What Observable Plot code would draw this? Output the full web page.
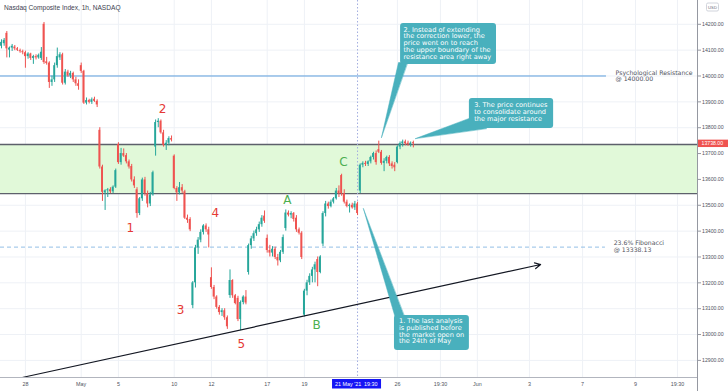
<!DOCTYPE html>
<html><head><meta charset="utf-8">
<script src="https://cdn.jsdelivr.net/npm/d3@7"></script>
<script src="https://cdn.jsdelivr.net/npm/@observablehq/plot@0.6"></script>
<style>
html,body{margin:0;padding:0;background:#fff}
#chart{width:728px;height:391px;overflow:hidden}
</style>
</head><body><div id="chart"></div>
<script>
// ---------------- data (hourly bars, index = bar number) ----------------
const open  = [14115,14125,14165,14100,14108,14112,14105,14098,14094,14090,14075,14085,14068,14075,14070,14068,14200,14055,14050,13975,
13985,14040,14070,14082,13972,14015,14000,14010,13985,13970,14040,14018,13895,13905,13898,13910,13902,13790,13648,13548,
13556,13560,13552,13570,13735,13665,13700,13692,13668,13650,13598,13560,13468,13525,13598,13545,13505,13540,13725,13820,
13825,13780,13732,13740,13758,13690,13565,13548,13568,13552,13450,13445,13112,13200,13335,13365,13395,13420,13405,13220,
13182,13145,13105,13085,13092,13065,13151,13209,13150,13140,13058,13124,13145,13240,13344,13370,13390,13405,13425,13458,
13372,13325,13315,13330,13298,13285,13318,13410,13470,13462,13468,13450,13405,13392,13075,13168,13200,13225,13250,13290,
13240,13350,13468,13505,13495,13512,13525,13555,13615,13545,13512,13495,13500,13490,13505,13555,13655,13662,13658,13668,
13685,13700,13715,13705,13662,13670,13685,13660,13655,13665,13725,13738,13745,13740,13735,13742];
const high  = [14140,14145,14172,14112,14122,14118,14110,14104,14100,14096,14090,14088,14080,14082,14085,14110,14207,14072,14055,14000,
14050,14108,14090,14088,14025,14022,14018,14015,13995,13985,14050,14022,13915,13910,13915,13918,13908,13800,13655,13560,
13565,13568,13575,13640,13742,13720,13718,13700,13675,13658,13610,13568,13530,13605,13608,13555,13550,13632,13830,13835,
13830,13790,13750,13765,13768,13695,13572,13588,13580,13558,13462,13452,13205,13345,13375,13405,13425,13428,13415,13258,
13190,13150,13112,13100,13100,13072,13250,13212,13155,13148,13130,13150,13170,13350,13380,13400,13415,13435,13460,13478,
13385,13345,13340,13338,13310,13325,13385,13482,13478,13475,13472,13460,13412,13398,13175,13210,13235,13260,13280,13300,
13305,13475,13515,13512,13520,13530,13565,13575,13620,13560,13520,13505,13508,13515,13512,13660,13668,13670,13672,13690,
13705,13710,13748,13712,13680,13690,13692,13668,13665,13730,13745,13752,13752,13748,13745,13748];
const low   = [14105,14115,14070,14070,14095,14098,14095,14088,14082,14030,14065,14060,14045,14062,14065,14060,14045,14042,13952,13960,
13975,14030,14060,13965,13965,13995,13990,13975,13960,13945,14010,13890,13888,13892,13890,13898,13878,13640,13515,13480,
13530,13545,13545,13565,13658,13655,13685,13660,13640,13590,13565,13450,13460,13515,13535,13490,13495,13535,13690,13800,
13775,13725,13712,13730,13745,13560,13515,13540,13545,13445,13430,13398,13100,13180,13310,13355,13385,13395,13335,13175,
13135,13098,13075,13070,13055,13020,13140,13140,13115,13050,13015,13115,13115,13230,13330,13360,13380,13395,13415,13430,
13315,13300,13300,13290,13265,13278,13310,13400,13455,13448,13435,13395,13385,13290,13068,13150,13190,13200,13200,13185,
13235,13340,13455,13485,13490,13505,13520,13530,13535,13505,13490,13470,13485,13480,13460,13545,13645,13650,13650,13660,
13675,13655,13700,13655,13630,13660,13650,13640,13630,13660,13715,13725,13730,13728,13725,13722];
const close = [14130,14138,14105,14108,14115,14105,14100,14094,14090,14075,14085,14068,14075,14070,14080,14092,14052,14048,13975,13985,
14040,14075,14082,13972,14015,14000,14010,13985,13970,13960,14018,13895,13905,13898,13908,13902,13888,13648,13550,13556,
13560,13552,13570,13634,13665,13700,13690,13668,13648,13598,13575,13468,13525,13598,13545,13505,13540,13626,13820,13825,
13780,13732,13740,13758,13752,13565,13548,13568,13555,13450,13442,13405,13200,13335,13365,13395,13420,13405,13385,13182,
13145,13105,13085,13092,13065,13030,13209,13150,13120,13058,13124,13145,13122,13344,13370,13390,13405,13425,13450,13438,
13325,13315,13330,13298,13285,13318,13375,13470,13462,13468,13445,13405,13392,13298,13168,13200,13225,13250,13270,13240,
13300,13468,13505,13495,13512,13525,13555,13545,13545,13512,13495,13500,13490,13505,13468,13655,13662,13658,13668,13685,
13700,13665,13705,13662,13670,13685,13660,13650,13645,13725,13738,13745,13738,13735,13740,13738];

// axis ticks
const priceTicks = [12900,13000,13100,13200,13300,13400,13500,13600,13700,13800,13900,14000,14100,14200];
const timeTickPos    = [9, 30, 44, 65, 79, 100, 114, 149, 165.2, 179.1, 198.7, 218.7, 238.6, 254.4];
const timeTickLabels = ["28","May","5","10","12","17","19","26","19:30","Jun","3","7","9","19:30"];

// levels
const resistanceZone = [13545, 13735];
const psychLevel = 14000;
const fibLevel = 13338.13;
const lastPrice = 13738;
const markerBar = 134;          // 21 May '21 19:30
const trendLine = [{x1: 7.8, y1: 12834, x2: 202.9, y2: 13271}];

// wave labels
const waveText  = ["2","1","4","3","5","A","B","C"];
const waveBar   = [60.6, 48.5, 80.5, 67.4, 90.3, 107.6, 118.6, 128.7];
const wavePrice = [13870, 13410, 13468, 13093, 12961, 13518, 13035, 13665];

// callouts (in bar / price units)
const callouts = [
  {text: "1. The last analysis\nis published before\nthe market open on\nthe 24th of May",
   x1: 147.9, x2: 176.1, y1: 12938, y2: 13074, tx: 149.6, ty: 13062,
   tail: [[136.2, 13487], [148.3, 13062], [151.9, 13062]]},
  {text: "2. Instead of extending\nthe correction lower, the\nprice went on to reach\nthe upper boundary of the\nresistance area right away",
   x1: 150.2, x2: 186.3, y1: 14044, y2: 14203, tx: 151.3, ty: 14190,
   tail: [[143.0, 13762], [149.4, 14052], [152.8, 14052]]},
  {text: "3. The price continues\nto consolidate around\nthe major resistance",
   x1: 176.1, x2: 207.8, y1: 13797, y2: 13913, tx: 177.9, ty: 13897,
   tail: [[155.8, 13758], [176.5, 13838], [182.5, 13797]]}
];
const levelLabels = [
  {text: "Psychological Resistance\n@ 14000.00", x: 231.1, y: 14000},
  {text: "23.6% Fibonacci\n@ 13338.13", x: 230.4, y: 13340}
];

// ---------------- build ----------------
const GREEN = "#26a69a", RED = "#ef5350", TEAL = "#49b0bd";
const X0 = -0.376, X1 = 261.95;
const candles = open.map((o, i) => ({i, o, h: high[i], l: low[i], c: close[i], col: close[i] >= o ? GREEN : RED}));
const waves = waveText.map((t, k) => ({t, x: waveBar[k], y: wavePrice[k], col: /[A-C]/.test(t) ? "#4caf50" : "#e53935"}));
const timeTicks = timeTickPos.map((p, k) => ({p, label: timeTickLabels[k]}));
const tails = callouts.flatMap((c, k) => c.tail.map(([x, y]) => ({k, x, y})));

const font = "'Liberation Sans', Arial, sans-serif";
const vfont = "'DejaVu Sans', Verdana, sans-serif";

const plot = Plot.plot({
  width: 728, height: 391,
  marginLeft: 0, marginRight: 31, marginTop: 0, marginBottom: 13,
  x: {domain: [X0, X1], axis: null},
  y: {domain: [12830, 14292], axis: null},
  color: {type: "identity"},
  style: {background: "#fff", fontFamily: font, overflow: "visible"},
  marks: [
    Plot.ruleY(priceTicks, {stroke: "#eef1f6", strokeWidth: 1}),
    Plot.ruleX(timeTickPos, {stroke: "#eef1f6", strokeWidth: 1}),
    Plot.rect([resistanceZone], {x1: () => X0, x2: () => X1, y1: d => d[0], y2: d => d[1], fill: "#e1f9d9"}),
    Plot.ruleY(resistanceZone, {stroke: "#5d606b", strokeWidth: 1.4}),
    Plot.ruleY([psychLevel], {x1: () => X0, x2: () => 227.7, stroke: "#5d9fdc", strokeWidth: 1}),
    Plot.ruleY([fibLevel], {x1: () => X0, x2: () => 227.3, stroke: "#93bfe6", strokeWidth: 1, strokeDasharray: "4,3"}),
    Plot.ruleX([markerBar], {stroke: "#a3addf", strokeWidth: 1, strokeDasharray: "1.5,2"}),
    Plot.ruleX(candles, {x: "i", y1: "l", y2: "h", stroke: "col", strokeWidth: 1}),
    Plot.rect(candles, {x1: d => d.i - 0.35, x2: d => d.i + 0.35, y1: "o", y2: "c", fill: "col"}),
    Plot.arrow(trendLine, {x1: "x1", y1: "y1", x2: "x2", y2: "y2", stroke: "#131722", strokeWidth: 1.2, headLength: 8, headAngle: 55}),
    Plot.line(tails, {x: "x", y: "y", z: "k", fill: TEAL, stroke: TEAL, strokeWidth: 0.5, curve: "linear-closed"}),
    Plot.rect(callouts, {x1: "x1", x2: "x2", y1: "y1", y2: "y2", fill: TEAL, rx: 3}),
    Plot.text(callouts, {x: "tx", y: "ty", text: "text", textAnchor: "start", lineAnchor: "top", fill: "#fff", fontSize: 6.6, lineHeight: 1.02, fontFamily: vfont}),
    Plot.text(levelLabels, {x: "x", y: "y", text: "text", textAnchor: "start", lineAnchor: "middle", fill: "#50535e", fontSize: 6.2, lineHeight: 1.08, fontFamily: vfont}),
    Plot.text(waves, {x: "x", y: "y", text: "t", fill: "col", fontSize: 12, fontFamily: vfont}),
    Plot.text(timeTicks, {x: "p", text: "label", frameAnchor: "bottom", dy: 7, fill: "#50535e", fontSize: 5.4, fontFamily: font}),
    Plot.axisY(priceTicks, {anchor: "right", tickSize: 3, tickPadding: 1.5, tickFormat: d => d.toFixed(2), fontSize: 5.2, color: "#50535e", stroke: "#9598a1", label: null})
  ]
});

document.getElementById("chart").appendChild(plot);
const svg = d3.select(plot);
const xs = plot.scale("x"), ys = plot.scale("y");
const g = svg.append("g").attr("text-anchor", "start").attr("font-family", font);

// axis lines
g.append("line").attr("x1", 0).attr("x2", 697.5).attr("y1", 377.5).attr("y2", 377.5).attr("stroke", "#b2b5be");
g.append("line").attr("x1", 697.5).attr("x2", 697.5).attr("y1", 0).attr("y2", 391).attr("stroke", "#9598a1");

// title
g.append("text").attr("x", 4).attr("y", 10).attr("font-size", 6.6).attr("fill", "#3d4150")
  .attr("text-anchor", "start").text("Nasdaq Composite Index, 1h, NASDAQ");

// USD box
g.append("rect").attr("x", 706.5).attr("y", 3).attr("width", 12).attr("height", 8).attr("rx", 1.5)
  .attr("fill", "#fff").attr("stroke", "#d1d4dc");
g.append("text").attr("x", 712.5).attr("y", 8.6).attr("text-anchor", "middle")
  .attr("font-size", 4.2).attr("fill", "#6a6d78").text("USD");

// last price label
const yl = ys.apply(lastPrice);
g.append("rect").attr("x", 698).attr("y", yl - 3.6).attr("width", 30).attr("height", 7.4).attr("fill", "#ef5350");
g.append("text").attr("x", 701.5).attr("y", yl + 1.9).attr("text-anchor", "start")
  .attr("font-size", 5.2).attr("fill", "#fff").text(lastPrice.toFixed(2));

// crosshair date label
const xm = xs.apply(markerBar);
g.append("rect").attr("x", xm - 25).attr("y", 379).attr("width", 49).attr("height", 9.5).attr("fill", "#1515f5");
g.append("text").attr("x", xm - 22).attr("y", 386).attr("text-anchor", "start")
  .attr("font-size", 5.4).attr("fill", "#fff").text("21 May '21");
g.append("text").attr("x", xm + 7).attr("y", 386).attr("text-anchor", "start")
  .attr("font-size", 5.4).attr("fill", "#fff").text("19:30");
</script>
</body></html>
